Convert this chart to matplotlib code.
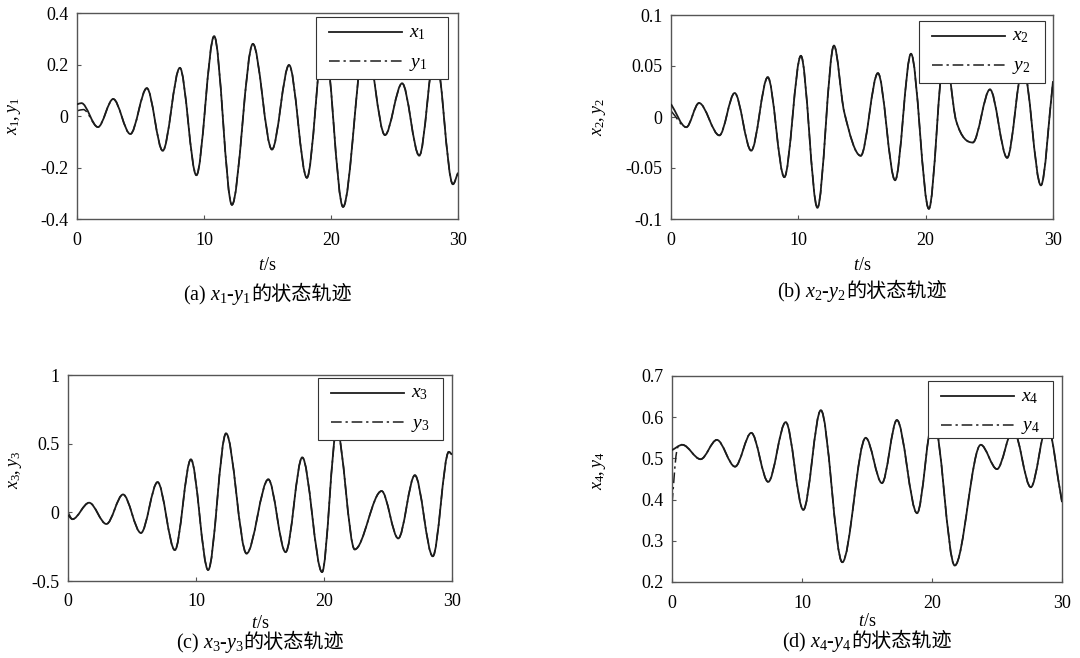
import numpy as np
import matplotlib
matplotlib.use('Agg')
from matplotlib import pyplot as plt
from matplotlib.path import Path
from matplotlib.patches import PathPatch, Rectangle
from matplotlib.lines import Line2D
from matplotlib.ticker import FormatStrFormatter
from matplotlib.offsetbox import TextArea, HPacker, AnchoredOffsetbox

plt.rcParams['font.family'] = ['Liberation Serif', 'Noto Sans CJK SC']
plt.rcParams['mathtext.fontset'] = 'custom'
plt.rcParams['mathtext.rm'] = 'Liberation Serif'
plt.rcParams['mathtext.it'] = 'Liberation Serif:italic'
plt.rcParams['axes.unicode_minus'] = False

# extrema (t in s, value)
t_x1 = [0, 0.35, 1.65, 2.85, 4.2, 5.5, 6.75, 8.1, 9.4, 10.8, 12.2, 13.85, 15.35, 16.7, 18.1,
        19.45, 20.95, 22.7, 24.25, 25.6, 26.95, 28.2, 29.6, 30]
x1 = [0.045, 0.05, -0.043, 0.066, -0.07, 0.108, -0.135, 0.187, -0.23, 0.31, -0.345, 0.28, -0.13,
      0.198, -0.24, 0.30, -0.353, 0.30, -0.074, 0.127, -0.154, 0.25, -0.265, -0.22]
t_y1 = [0, 0.5] + t_x1[2:]
y1 = [0.02, 0.025] + x1[2:]

t_x2 = [0, 1.2, 2.2, 3.8, 5.0, 6.3, 7.6, 8.9, 10.2, 11.5, 12.8, 13.6, 14.9, 16.25, 17.6, 18.85,
        20.25, 21.5, 22.4, 23.7, 25.05, 26.4, 27.65, 29.05, 30]
x2 = [0.0127, -0.01, 0.0137, -0.018, 0.0235, -0.033, 0.039, -0.059, 0.06, -0.089, 0.07, 0.005,
      -0.038, 0.043, -0.062, 0.062, -0.09, 0.065, -0.004, -0.025, 0.027, -0.04, 0.05, -0.067, 0.035]
t_y2 = [0] + t_x2[1:]
y2 = [0.006] + x2[1:]

t_x3 = [0, 0.35, 1.65, 3.0, 4.3, 5.7, 7.0, 8.35, 9.6, 10.95, 12.35, 13.95, 15.65, 17.0, 18.3,
        19.85, 21.0, 22.4, 24.5, 25.8, 27.1, 28.5, 29.75, 30]
x3 = [-0.02, -0.05, 0.07, -0.085, 0.13, -0.15, 0.22, -0.275, 0.385, -0.42, 0.575, -0.3, 0.24,
      -0.29, 0.40, -0.435, 0.60, -0.27, 0.155, -0.19, 0.27, -0.32, 0.44, 0.42]
t_y3 = t_x3
y3 = [0.0] + x3[1:]

t_x4 = [0, 0.8, 2.2, 3.45, 4.85, 6.1, 7.4, 8.75, 10.1, 11.45, 13.1, 14.9, 16.15, 17.3, 18.85,
        20.1, 21.75, 23.75, 25.0, 26.25, 27.6, 28.85, 30]
x4 = [0.52, 0.533, 0.498, 0.545, 0.48, 0.562, 0.443, 0.588, 0.375, 0.617, 0.248, 0.55, 0.44,
      0.593, 0.367, 0.60, 0.24, 0.533, 0.474, 0.57, 0.43, 0.58, 0.394]
t_y4 = [0, 0.35] + t_x4[1:]
y4 = [0.39, 0.515] + x4[1:]

# pos = axes box in pixels (l, t, r, b); leg = legend box (right inset, top inset, w, h) in px
panels = [
    dict(tx=t_x1, x=x1, ty=t_y1, y=y1, ylim=(-0.4, 0.4), yticks=[-0.4, -0.2, 0, 0.2, 0.4],
         pos=[77, 13, 458, 219], leg=(10, 4, 132, 62), idx='1', tag='a', ylab=-0.142, ylab_y=0.5,
         xl=265, cap=295),
    dict(tx=t_x2, x=x2, ty=t_y2, y=y2, ylim=(-0.1, 0.1), yticks=[-0.1, -0.05, 0, 0.05, 0.1],
         pos=[671, 15, 1053, 219], leg=(8, 6, 126, 62), idx='2', tag='b', ylab=-0.165, ylab_y=0.5,
         xl=265, cap=292),
    dict(tx=t_x3, x=x3, ty=t_y3, y=y3, ylim=(-0.5, 1.0), yticks=[-0.5, 0, 0.5, 1],
         pos=[68, 375, 452, 581], leg=(9, 3, 125, 62), idx='3', tag='c', ylab=-0.114, ylab_y=0.54,
         xl=623, cap=643),
    dict(tx=t_x4, x=x4, ty=t_y4, y=y4, ylim=(0.2, 0.7), yticks=[0.2, 0.3, 0.4, 0.5, 0.6, 0.7],
         pos=[672, 376, 1062, 582], leg=(9, 5, 125, 57), idx='4', tag='d', ylab=-0.164, ylab_y=0.54,
         xl=622, cap=642),
]

W, H = 1080, 658
LC = '#1c1c1c'


def smooth_path(t, v):
    # cubic Bezier segments through the read points, flat at the extrema
    t = np.asarray(t, float)
    v = np.asarray(v, float)
    n = len(t)
    m = np.zeros(n)
    for i in range(n):
        if i == 0:
            m[i] = (v[1] - v[0]) / (t[1] - t[0])
        elif i == n - 1:
            m[i] = (v[-1] - v[-2]) / (t[-1] - t[-2])
        else:
            a, b = v[i] - v[i - 1], v[i + 1] - v[i]
            m[i] = 0 if a * b <= 0 else (v[i + 1] - v[i - 1]) / (t[i + 1] - t[i - 1])
    verts = [(t[0], v[0])]
    codes = [Path.MOVETO]
    for i in range(n - 1):
        h = (t[i + 1] - t[i]) / 3
        verts += [(t[i] + h, v[i] + h * m[i]), (t[i + 1] - h, v[i + 1] - h * m[i + 1]),
                  (t[i + 1], v[i + 1])]
        codes += [Path.CURVE4] * 3
    return Path(verts, codes)


fig = plt.figure(figsize=(10.8, 6.58), dpi=100)
dashdot = (0, (7, 2.5, 1.5, 2.5))

for p in panels:
    l, t, r, b = p['pos']
    aw, ah = r - l, b - t
    ax = fig.add_axes([l / W, 1 - b / H, aw / W, ah / H])
    ax.add_patch(PathPatch(smooth_path(p['ty'], p['y']), fill=False, edgecolor=LC, lw=1.1,
                           linestyle=dashdot, zorder=2))
    ax.add_patch(PathPatch(smooth_path(p['tx'], p['x']), fill=False, edgecolor=LC, lw=1.3, zorder=3))
    ax.set_xlim(0, 30)
    ax.set_ylim(*p['ylim'])
    ax.set_xticks([0, 10, 20, 30])
    ax.set_yticks(p['yticks'])
    ax.yaxis.set_major_formatter(FormatStrFormatter('%g'))
    ax.tick_params(direction='in', length=3, width=0.8, color='#555', labelsize=13, pad=6)
    ax.tick_params(axis='x', pad=9)
    for s in ax.spines.values():
        s.set_color('#555')
        s.set_linewidth(1.0)
    k = p['idx']
    ax.set_ylabel('$x_{%s},y_{%s}$' % (k, k), fontsize=13)
    ax.yaxis.set_label_coords(p['ylab'], p['ylab_y'])

    # legend box drawn by hand so the spacing follows the reference
    ri, ti, lw_, lh = p['leg']
    bx1 = 1 - ri / aw
    bx0 = bx1 - lw_ / aw
    by1 = 1 - ti / ah
    by0 = by1 - lh / ah
    ax.add_patch(Rectangle((bx0, by0), bx1 - bx0, by1 - by0, transform=ax.transAxes,
                           facecolor='white', edgecolor='#333', lw=0.8, zorder=5, clip_on=False))
    rows = [('$x_{%s}$' % k, '-', 1.3, 15, 16), ('$y_{%s}$' % k, dashdot, 1.1, 44, 47)]
    for lab, ls, lwd, ly, ty in rows:
        ax.add_line(Line2D([bx0 + 13 / aw, bx0 + 86 / aw], [by1 - ly / ah] * 2, color=LC, lw=lwd,
                           linestyle=ls, transform=ax.transAxes, zorder=6, clip_on=False))
        ax.text(bx0 + 93 / aw, by1 - ty / ah, lab, transform=ax.transAxes, fontsize=14,
                ha='left', va='center', zorder=6)

    cx = (l + r) / 2 / W
    fig.text(cx, 1 - p['xl'] / H, '$t$/s', ha='center', va='center', fontsize=13)
    # caption: math part and CJK part packed side by side
    parts = [TextArea('(%s) $x_{%s}$-$y_{%s}$' % (p['tag'], k, k), textprops=dict(fontsize=14.5)),
             TextArea('的状态轨迹', textprops=dict(fontsize=14.5, family='Noto Sans CJK SC'))]
    box = HPacker(children=parts, align='baseline', pad=0, sep=0)
    cap = AnchoredOffsetbox(loc='center', child=box, pad=0, borderpad=0, frameon=False,
                            bbox_to_anchor=(cx, 1 - p['cap'] / H), bbox_transform=fig.transFigure)
    fig.add_artist(cap)

fig.savefig('out.png', dpi=100, facecolor='white')
